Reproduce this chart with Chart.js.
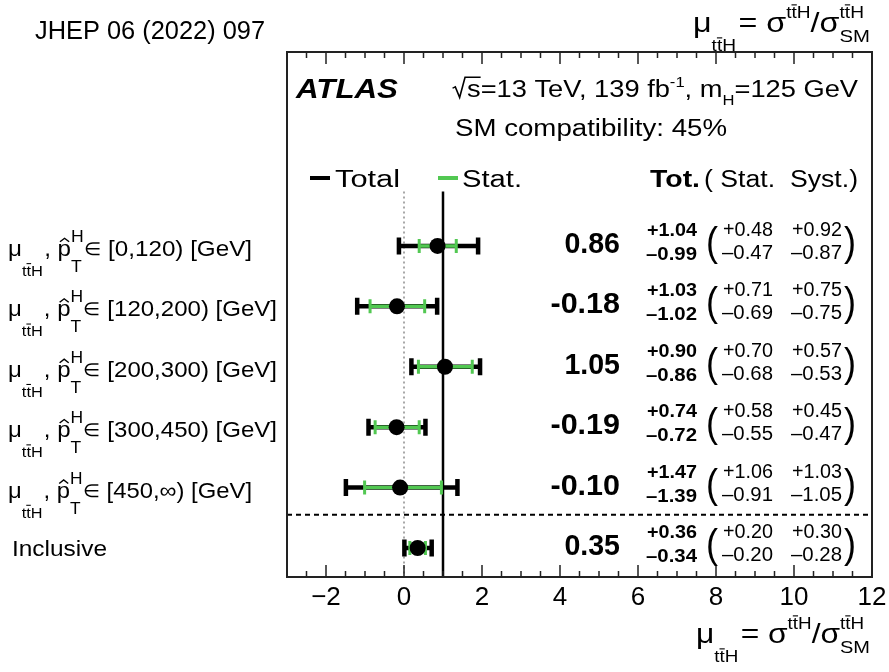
<!DOCTYPE html>
<html><head><meta charset="utf-8">
<script src="https://cdn.jsdelivr.net/npm/chart.js@4"></script>
<style>html,body{margin:0;padding:0;background:#fff}canvas{display:block}</style>
</head><body>
<canvas id="c" width="889" height="672" style="width:889px;height:672px"></canvas>
<script>
// ---------------- data ----------------
const categories = ['[0,120)', '[120,200)', '[200,300)', '[300,450)', '[450,∞)', 'Inclusive'];
const mu     = [0.86, -0.18, 1.05, -0.19, -0.10, 0.35];
const totUp  = [1.04, 1.03, 0.90, 0.74, 1.47, 0.36];
const totDn  = [0.99, 1.02, 0.86, 0.72, 1.39, 0.34];
const statUp = [0.48, 0.71, 0.70, 0.58, 1.06, 0.20];
const statDn = [0.47, 0.69, 0.68, 0.55, 0.91, 0.20];
const systUp = [0.92, 0.75, 0.57, 0.45, 1.03, 0.30];
const systDn = [0.87, 0.75, 0.53, 0.47, 1.05, 0.28];
const xTicks = [-2, 0, 2, 4, 6, 8, 10, 12];
const xTickLabels = ['\u22122', '0', '2', '4', '6', '8', '10', '12'];
const smLine = 1;          // SM expectation
const separatorAt = 4.45;  // between last bin and inclusive
const refLinesFrom = -0.9;

const GREEN = '#52c852';
const FF = '"Liberation Sans", Arial, sans-serif';
function F(size, weight, style){ return (style||'') + ' ' + (weight||'normal') + ' ' + size + 'px ' + FF; }

// ---------------- rich text helper ----------------
function itemWidth(ctx, p){
  ctx.font = F(p.size, p.weight, p.style);
  return ctx.measureText(p.t).width + (p.sqrt ? p.size*0.55 : 0);
}
function drawItem(ctx, p, cx){
  const dy = p.dy || 0;
  ctx.font = F(p.size, p.weight, p.style);
  let ox = cx;
  if (p.sqrt){
    const s = p.size;
    const w = ctx.measureText(p.t).width;
    ctx.lineWidth = Math.max(1, s*0.06);
    ctx.beginPath();
    ctx.moveTo(cx + s*0.02, dy - s*0.38);
    ctx.lineTo(cx + s*0.12, dy - s*0.44);
    ctx.lineTo(cx + s*0.28, dy + s*0.02);
    ctx.lineTo(cx + s*0.48, dy - s*0.86);
    ctx.lineTo(cx + s*0.55 + w, dy - s*0.86);
    ctx.stroke();
    ox = cx + s*0.55;
  }
  ctx.fillText(p.t, ox, dy);
  if (p.bars){
    for (const b of p.bars){
      const a = ctx.measureText(p.t.slice(0,b)).width;
      const cw = ctx.measureText(p.t[b]).width;
      const top = dy - p.size*0.82;
      ctx.lineWidth = Math.max(1, p.size*0.07);
      ctx.beginPath(); ctx.moveTo(ox + a, top); ctx.lineTo(ox + a + cw, top); ctx.stroke();
    }
  }
  if (p.hat){
    const cw = ctx.measureText(p.t).width;
    const s = p.size;
    ctx.lineWidth = Math.max(1, s*0.06);
    ctx.beginPath();
    ctx.moveTo(ox + cw*0.18, dy - s*0.64);
    ctx.lineTo(ox + cw*0.52, dy - s*0.80);
    ctx.lineTo(ox + cw*0.86, dy - s*0.64);
    ctx.stroke();
  }
}
function drawRich(ctx, parts, x, y, opts){
  opts = opts || {};
  const widths = parts.map(p => p.stack ? Math.max(...p.stack.map(s => itemWidth(ctx, s))) : itemWidth(ctx, p) + (p.gap||0));
  const nat = widths.reduce((a,b)=>a+b, 0);
  const sx = opts.width ? opts.width / nat : 1;
  let x0 = x;
  if (opts.align === 'right') x0 = x - nat*sx;
  ctx.save();
  ctx.translate(x0, y); ctx.scale(sx, 1);
  ctx.textAlign = 'left'; ctx.textBaseline = 'alphabetic';
  ctx.fillStyle = opts.color || '#000'; ctx.strokeStyle = opts.color || '#000';
  let cx = 0;
  parts.forEach((p, i) => {
    if (p.stack) p.stack.forEach(s => drawItem(ctx, s, cx));
    else drawItem(ctx, p, cx);
    cx += widths[i];
  });
  ctx.restore();
}
function txt(ctx, s, x, y, size, opts){
  opts = opts || {};
  drawRich(ctx, [{t:s, size:size, weight:opts.weight, style:opts.style}], x, y, opts);
}
function titleParts(){
  return [
    {t:'\u03bc', size:27},
    {t:'ttH', size:16, dy:19, bars:[1], gap:2},
    {t:'= \u03c3', size:27},
    {t:'ttH', size:16, dy:-14, bars:[1]},
    {t:'/\u03c3', size:27},
    {stack:[{t:'ttH', size:16, dy:-14, bars:[1]}, {t:'SM', size:17, dy:10}]}
  ];
}

// ---------------- plugin ----------------
const forest = {
  id: 'forest',
  beforeDatasetsDraw(chart){
    const {ctx, chartArea:a, scales:{x, y}} = chart;
    ctx.save();
    const yTop = y.getPixelForValue(refLinesFrom);
    // dotted line at 0
    ctx.strokeStyle = '#a8a8a8'; ctx.lineWidth = 2; ctx.setLineDash([2,3]);
    ctx.beginPath(); ctx.moveTo(x.getPixelForValue(0), yTop); ctx.lineTo(x.getPixelForValue(0), a.bottom); ctx.stroke();
    // SM line at 1
    ctx.setLineDash([]); ctx.strokeStyle = '#000'; ctx.lineWidth = 2.5;
    ctx.beginPath(); ctx.moveTo(x.getPixelForValue(smLine), yTop); ctx.lineTo(x.getPixelForValue(smLine), a.bottom); ctx.stroke();
    // separator
    ctx.setLineDash([5,4]); ctx.lineWidth = 2;
    const ys = y.getPixelForValue(separatorAt);
    ctx.beginPath(); ctx.moveTo(a.left, ys); ctx.lineTo(a.right, ys); ctx.stroke();
    ctx.setLineDash([]);
    // error bars
    mu.forEach((m, i) => {
      const py = y.getPixelForValue(i);
      const bar = (lo, hi, color, lw, capH, capW) => {
        const x1 = x.getPixelForValue(lo), x2 = x.getPixelForValue(hi);
        ctx.strokeStyle = color; ctx.lineWidth = lw;
        ctx.beginPath(); ctx.moveTo(x1, py); ctx.lineTo(x2, py); ctx.stroke();
        ctx.lineWidth = capW;
        ctx.beginPath();
        ctx.moveTo(x1, py - capH/2); ctx.lineTo(x1, py + capH/2);
        ctx.moveTo(x2, py - capH/2); ctx.lineTo(x2, py + capH/2);
        ctx.stroke();
      };
      bar(m - totDn[i], m + totUp[i], '#000', 4.5, 17, 4.5);
      bar(m - statDn[i], m + statUp[i], GREEN, 3.5, 14, 3);
    });
    ctx.restore();
  },
  afterDraw(chart){
    const {ctx, chartArea:a, scales:{x, y}} = chart;
    ctx.save();
    // frame
    ctx.strokeStyle = '#222'; ctx.lineWidth = 2;
    ctx.strokeRect(a.left, a.top, a.right - a.left, a.bottom - a.top);
    // ticks
    ctx.lineWidth = 1.5;
    for (let v = -3; v <= 12.001; v += 0.5){
      const px = x.getPixelForValue(v);
      const major = Math.abs(v/2 - Math.round(v/2)) < 1e-6;
      const L = major ? 12 : 6;
      ctx.beginPath();
      ctx.moveTo(px, a.bottom); ctx.lineTo(px, a.bottom - L);
      ctx.moveTo(px, a.top); ctx.lineTo(px, a.top + L);
      ctx.stroke();
    }
    // tick labels
    xTicks.forEach((v, k) => {
      ctx.font = F(26); ctx.fillStyle = '#000'; ctx.textAlign = 'center'; ctx.textBaseline = 'middle';
      ctx.fillText(xTickLabels[k], x.getPixelForValue(v), a.bottom + 21);
    });

    // header texts
    txt(ctx, 'JHEP 06 (2022) 097', 35, 39, 25, {width:230});
    drawRich(ctx, titleParts(), 693, 32, {width:177});
    drawRich(ctx, titleParts(), 696, 643, {width:174});
    txt(ctx, 'ATLAS', 296, 98, 28, {weight:'bold', style:'italic', width:102});
    drawRich(ctx, [
      {t:'s', size:23, sqrt:true},
      {t:'=13 TeV, 139 fb', size:23},
      {t:'-1', size:14, dy:-10},
      {t:', m', size:23},
      {t:'H', size:14, dy:8},
      {t:'=125 GeV', size:23}
    ], 452, 97, {width:406});
    txt(ctx, 'SM compatibility: 45%', 455, 136, 23, {width:272});
    // legend
    ctx.lineWidth = 4;
    ctx.strokeStyle = '#000'; ctx.beginPath(); ctx.moveTo(310, 178); ctx.lineTo(330, 178); ctx.stroke();
    ctx.strokeStyle = GREEN; ctx.beginPath(); ctx.moveTo(438, 178); ctx.lineTo(458, 178); ctx.stroke();
    txt(ctx, 'Total', 335, 187, 23, {width:65});
    txt(ctx, 'Stat.', 462, 187, 23, {width:60});
    txt(ctx, 'Tot.', 650, 187, 23, {weight:'bold', width:50});
    txt(ctx, '( Stat.  Syst.)', 704, 187, 23, {width:154});

    // per-row texts
    const f2 = v => v.toFixed(2);
    mu.forEach((m, i) => {
      const Y = y.getPixelForValue(i);
      // left label
      if (i < 5){
        drawRich(ctx, [
          {t:'\u03bc', size:22},
          {t:'ttH', size:15, dy:20, bars:[1], gap:1},
          {t:', ', size:22},
          {t:'p', size:22, hat:true},
          {stack:[{t:'H', size:16, dy:-14}, {t:'T', size:16, dy:16}]},
          {t:'\u2208', size:18, dy:-1},
          {t:' ' + categories[i] + ' [GeV]', size:22}
        ], 8, Y + 10, {width: (i === 0 || i === 4) ? 244 : 269});
      } else {
        txt(ctx, categories[i], 12, Y + 8, 22, {width:95});
      }
      // central value
      const mstr = (m < 0 ? '-' : '') + f2(Math.abs(m));
      txt(ctx, mstr, 620, Y + 7, 30, {weight:'bold', align:'right', width: mstr.length * 13.9});
      // total
      txt(ctx, '+' + f2(totUp[i]), 647, Y - 10, 19, {weight:'bold', width:50});
      txt(ctx, '\u2013' + f2(totDn[i]), 646, Y + 14, 19, {weight:'bold', width:51});
      // parens
      txt(ctx, '(', 706, Y + 10, 40, {width:12});
      txt(ctx, ')', 844, Y + 10, 40, {width:12});
      // stat / syst
      txt(ctx, '+' + f2(statUp[i]), 723, Y - 10, 20, {width:50});
      txt(ctx, '\u2013' + f2(statDn[i]), 722, Y + 13, 20, {width:51});
      txt(ctx, '+' + f2(systUp[i]), 792, Y - 10, 20, {width:50});
      txt(ctx, '\u2013' + f2(systDn[i]), 791, Y + 13, 20, {width:51});
    });
    ctx.restore();
  }
};

new Chart(document.getElementById('c').getContext('2d'), {
  type: 'scatter',
  data: { datasets: [{
    data: mu.map((v, i) => ({x: v, y: i})),
    pointRadius: 8, pointHoverRadius: 8,
    backgroundColor: '#000', borderColor: '#000', borderWidth: 0
  }]},
  options: {
    responsive: false, animation: false, devicePixelRatio: 1,
    layout: { padding: { left: 287, right: 17, top: 52, bottom: 95 } },
    plugins: { legend: { display: false }, tooltip: { enabled: false } },
    scales: {
      x: { type: 'linear', min: -3, max: 12, display: false },
      y: { type: 'linear', min: -3.21, max: 5.48, reverse: true, display: false }
    }
  },
  plugins: [forest]
});
</script>
</body></html>
